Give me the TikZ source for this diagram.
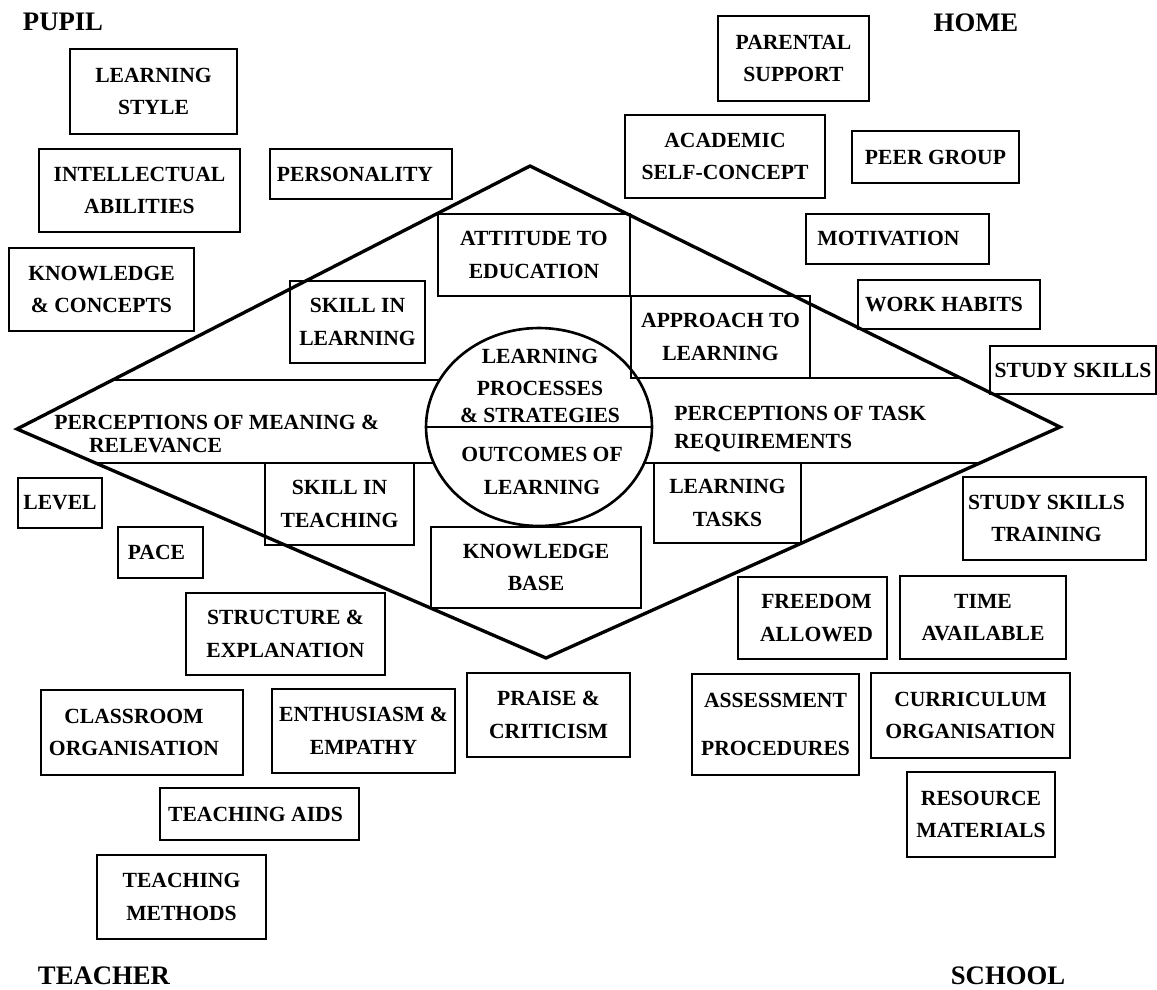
\documentclass[tikz,border=0pt]{standalone}
\usepackage{fontspec}
\setmainfont{Liberation Serif}
\usetikzlibrary{shapes.geometric}
\tikzset{
  bx/.style={draw, line width=1.5pt, rectangle, inner sep=0pt},
  txt/.style={align=center, inner sep=0pt, font=\fontsize{12.3}{18.6}\selectfont\bfseries},
  corner/.style={inner sep=0pt, font=\fontsize{15.2}{18}\selectfont\bfseries},
  shapeline/.style={line width=1.9pt, line join=miter},
  divline/.style={line width=1.5pt}
}
% #1 text x-shift (px), #2 name, #3 x1, #4 y1, #5 x2, #6 y2, #7 text
\newcommand\BoxAt[7][0]{%
  \node[bx, minimum width={(#5-#3)*0.02cm}, minimum height={(#6-#4)*0.02cm}] (#2) at ({(#3+#5)/2},{(#4+#6)/2}) {};
  \node[txt, xshift={#1*0.02cm}] (#2-t) at (#2.center) {#7};
}
\begin{document}
\begin{tikzpicture}[x=0.02cm, y=-0.02cm]
\useasboundingbox (0,0) rectangle (1157,990);

% corner labels
\node[corner] (pupil) at (63,22) {PUPIL};
\node[corner] (home) at (976,23) {HOME};
\node[corner] (teacher) at (104,976) {TEACHER};
\node[corner] (school) at (1008,976) {SCHOOL};

% diamond
\coordinate (L) at (17,429);
\coordinate (T) at (530,166);
\coordinate (R) at (1060,427);
\coordinate (B) at (546,658);
\draw[shapeline] (L) -- (T) -- (R) -- (B) -- cycle;

% central ellipse
\node[draw, ellipse, line width=1.5pt, inner sep=0pt, minimum width=4.52cm, minimum height=3.96cm] (core) at (539,427) {};
\draw[divline] (core.west) -- (core.east);

% horizontal bands
\coordinate (ulA) at (112.6,380); \coordinate (ulB) at (440,380);
\coordinate (urA) at (637,378);   \coordinate (urB) at (960.5,378);
\coordinate (llA) at (95.5,463);  \coordinate (llB) at (434,463);
\coordinate (lrA) at (644,463);   \coordinate (lrB) at (980,463);
\draw[divline] (ulA) -- (ulB);
\draw[divline] (urA) -- (urB);
\draw[divline] (llA) -- (llB);
\draw[divline] (lrA) -- (lrB);

% texts in ellipse
\node[txt] (lp) at (540,386) {LEARNING\\PROCESSES\\[-3.3pt]\& STRATEGIES};
\node[txt] (ol) at (542,471) {OUTCOMES OF\\LEARNING};

% perceptions
\node[txt, align=left, anchor=west, font=\fontsize{12.3}{12.6}\selectfont\bfseries] (pmr) at (54,434) {PERCEPTIONS OF MEANING \&\\\hspace*{19.8pt}RELEVANCE};
\node[txt, align=left, anchor=west, font=\fontsize{12.3}{15.9}\selectfont\bfseries] (ptr) at (674,429) {PERCEPTIONS OF TASK\\REQUIREMENTS};

% boxes inside diamond
\BoxAt{att}{438}{214}{630}{296}{ATTITUDE TO\\EDUCATION}
\BoxAt{sil}{290}{281}{425}{363}{SKILL IN\\LEARNING}
\BoxAt{apl}{631}{296}{810}{378}{APPROACH TO\\LEARNING}
\BoxAt{sit}{265}{463}{414}{545}{SKILL IN\\TEACHING}
\BoxAt{kb}{431}{527}{641}{608}{KNOWLEDGE\\BASE}
\BoxAt{lt}{654}{463}{801}{543}{LEARNING\\TASKS}

% pupil
\BoxAt{ls}{70}{49}{237}{134}{LEARNING\\STYLE}
\BoxAt{ia}{39}{149}{240}{232}{INTELLECTUAL\\ABILITIES}
\BoxAt[-6]{pers}{270}{149}{452}{199}{PERSONALITY}
\BoxAt{kc}{9}{248}{194}{331}{KNOWLEDGE\\\& CONCEPTS}

% home
\BoxAt{ps}{718}{16}{869}{101}{PARENTAL\\SUPPORT}
\BoxAt{asc}{625}{115}{825}{198}{ACADEMIC\\SELF-CONCEPT}
\BoxAt{pg}{852}{131}{1019}{183}{PEER GROUP}
\BoxAt[-9]{mot}{806}{214}{989}{264}{MOTIVATION}
\BoxAt[-5]{wh}{858}{280}{1040}{329}{WORK HABITS}
\BoxAt{ss}{990}{346}{1156}{394}{STUDY SKILLS}

% school
\BoxAt[-8]{sst}{963}{477}{1146}{560}{STUDY SKILLS\\TRAINING}
\BoxAt[4]{fa}{738}{577}{887}{659}{FREEDOM\\ALLOWED}
\BoxAt{ta}{900}{576}{1066}{659}{TIME\\AVAILABLE}
\BoxAt{ap}{692}{674}{859}{775}{ASSESSMENT\\[9pt]PROCEDURES}
\BoxAt{co}{871}{673}{1070}{758}{CURRICULUM\\ORGANISATION}
\BoxAt{rm}{907}{772}{1055}{857}{RESOURCE\\MATERIALS}

% teacher
\BoxAt{lev}{18}{478}{102}{528}{LEVEL}
\BoxAt[-4]{pace}{118}{527}{203}{578}{PACE}
\BoxAt{se}{186}{593}{385}{675}{STRUCTURE \&\\EXPLANATION}
\BoxAt[-8]{cls}{41}{690}{243}{775}{CLASSROOM\\ORGANISATION}
\BoxAt{ee}{272}{689}{455}{773}{ENTHUSIASM \&\\EMPATHY}
\BoxAt{pc}{467}{673}{630}{757}{PRAISE \&\\CRITICISM}
\BoxAt[-4]{tai}{160}{788}{359}{840}{TEACHING AIDS}
\BoxAt{tm}{97}{855}{266}{939}{TEACHING\\METHODS}

\end{tikzpicture}
\end{document}
